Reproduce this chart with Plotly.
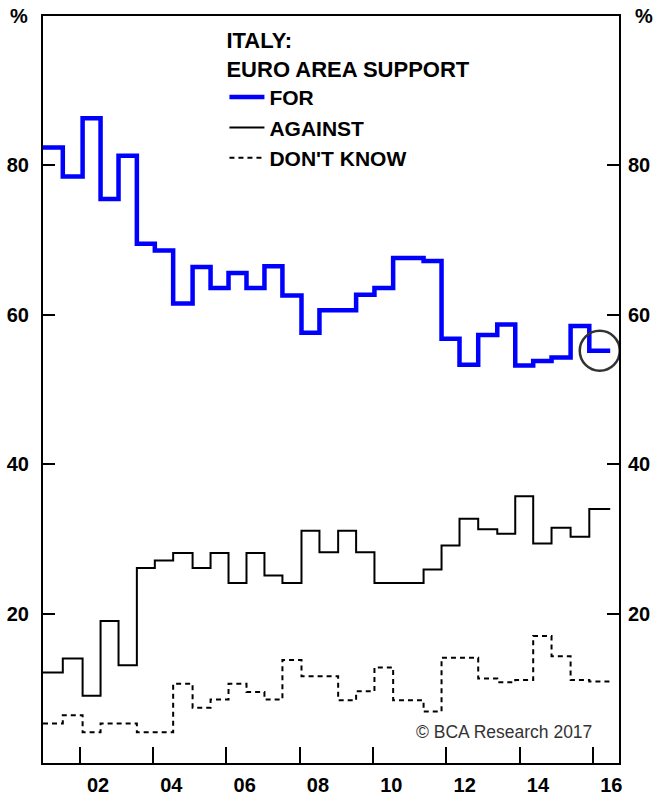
import plotly.graph_objects as go

# Survey dates (decimal years) and shares, in %
DATES = [2001.00, 2001.54, 2002.08, 2002.57, 2003.06, 2003.56, 2004.05, 2004.55,
         2005.08, 2005.57, 2006.06, 2006.55, 2007.04, 2007.53, 2008.05, 2008.54,
         2009.05, 2009.54, 2010.04, 2010.55, 2011.38, 2011.87, 2012.36, 2012.87,
         2013.39, 2013.88, 2014.37, 2014.87, 2015.39, 2015.90, 2016.47]
FOR = [82.4, 78.5, 86.3, 75.5, 81.3, 69.5, 68.6, 61.5, 66.4, 63.6, 65.6, 63.6,
       66.5, 62.6, 57.6, 60.6, 60.6, 62.7, 63.6, 67.6, 67.2, 56.8, 53.3, 57.3,
       58.7, 53.2, 53.8, 54.3, 58.5, 55.2, 55.2]
AGAINST = [12.1, 14.0, 9.0, 19.0, 13.1, 26.1, 27.1, 28.1, 26.1, 28.1, 24.1, 28.1,
           25.1, 24.1, 31.1, 28.2, 31.1, 28.2, 24.1, 24.1, 25.9, 29.1, 32.7, 31.3,
           30.7, 35.7, 29.4, 31.5, 30.3, 34.0, 34.0]
DONT_KNOW = [5.3, 6.4, 4.1, 5.3, 5.3, 4.1, 4.1, 10.6, 7.4, 8.5, 10.6, 9.5,
             8.5, 13.8, 11.6, 11.6, 8.4, 9.6, 12.8, 8.4, 6.9, 14.1, 14.1, 11.3,
             10.8, 11.1, 17.0, 14.3, 11.1, 10.9, 10.9]

TICK_YEARS = [2002, 2004, 2006, 2008, 2010, 2012, 2014, 2016]
TICK_LABELS = ["02", "04", "06", "08", "10", "12", "14", "16"]
Y_TICKS = [20, 40, 60, 80]
X_RANGE = [2001.0, 2016.71]
Y_RANGE = [0, 100]

FONT = "Liberation Sans, Arial, sans-serif"

fig = go.Figure()
fig.add_trace(go.Scatter(x=DATES, y=FOR, mode="lines", name="FOR", yaxis="y2",
                         line=dict(color="#0000FF", width=4.5, shape="hv")))
fig.add_trace(go.Scatter(x=DATES, y=AGAINST, mode="lines", name="AGAINST",
                         line=dict(color="#000000", width=2, shape="hv")))
fig.add_trace(go.Scatter(x=DATES, y=DONT_KNOW, mode="lines", name="DON'T KNOW",
                         line=dict(color="#000000", width=2, shape="hv", dash="5px,4px")))

tick_font = dict(family=FONT, size=20, color="#000000", weight="bold")

fig.update_layout(
    width=656, height=796, autosize=False,
    margin=dict(l=43, r=37, t=16, b=33, pad=0),
    paper_bgcolor="white", plot_bgcolor="white",
    showlegend=True,
    legend=dict(
        x=0.315, xanchor="left", y=0.995, yanchor="top",
        bgcolor="rgba(0,0,0,0)", borderwidth=0,
        font=dict(family=FONT, size=21, color="#000000", weight="bold"),
        title=dict(text="ITALY:<br>EURO AREA SUPPORT",
                   font=dict(family=FONT, size=22, color="#000000", weight="bold")),
        itemwidth=35,
    ),
    xaxis=dict(
        range=X_RANGE, showgrid=False, zeroline=False, automargin=False,
        showline=True, linecolor="#000000", linewidth=2, mirror=True,
        tickvals=[y + 0.5 for y in TICK_YEARS], ticktext=TICK_LABELS,
        ticks="", tickfont=tick_font, ticklabelstandoff=3,
        minor=dict(tickvals=TICK_YEARS, ticks="inside", ticklen=16,
                   tickwidth=2, tickcolor="#000000", showgrid=False),
    ),
    yaxis=dict(
        range=Y_RANGE, showgrid=False, zeroline=False, automargin=False,
        showline=True, linecolor="#000000", linewidth=2,
        tickvals=Y_TICKS, ticks="inside", ticklen=12, tickwidth=2,
        tickcolor="#000000", tickfont=tick_font, ticklabelstandoff=8,
    ),
    yaxis2=dict(
        range=Y_RANGE, overlaying="y", side="right", showgrid=False, zeroline=False,
        automargin=False,
        showline=True, linecolor="#000000", linewidth=2,
        tickvals=Y_TICKS, ticks="inside", ticklen=12, tickwidth=2,
        tickcolor="#000000", tickfont=tick_font, ticklabelstandoff=3,
    ),
)

fig.add_annotation(text="%", xref="paper", yref="paper", x=0, y=1,
                   xanchor="right", yanchor="middle", xshift=-13, showarrow=False,
                   font=dict(family=FONT, size=20, color="#000000", weight="bold"))
fig.add_annotation(text="%", xref="paper", yref="paper", x=1, y=1,
                   xanchor="left", yanchor="middle", xshift=14, showarrow=False,
                   font=dict(family=FONT, size=20, color="#000000", weight="bold"))
fig.add_annotation(text="© BCA Research 2017", xref="paper", yref="paper",
                   x=0.957, y=0.042, xanchor="right", yanchor="middle", showarrow=False,
                   font=dict(family=FONT, size=17.5, color="#333333"))

# Highlight circle around the latest reading
fig.add_shape(type="circle", xref="x", yref="y2",
              xsizemode="pixel", ysizemode="pixel",
              xanchor=(DATES[-2] + DATES[-1]) / 2, yanchor=FOR[-1],
              x0=-20, x1=20, y0=-20, y1=20,
              line=dict(color="#333333", width=2.5))

# Remove the default page margin so the figure fills the window exactly
fig.write_html("out.html",
               config={"displayModeBar": False},
               post_script="document.body.style.margin='0';"
                           "document.body.style.overflow='hidden';")
